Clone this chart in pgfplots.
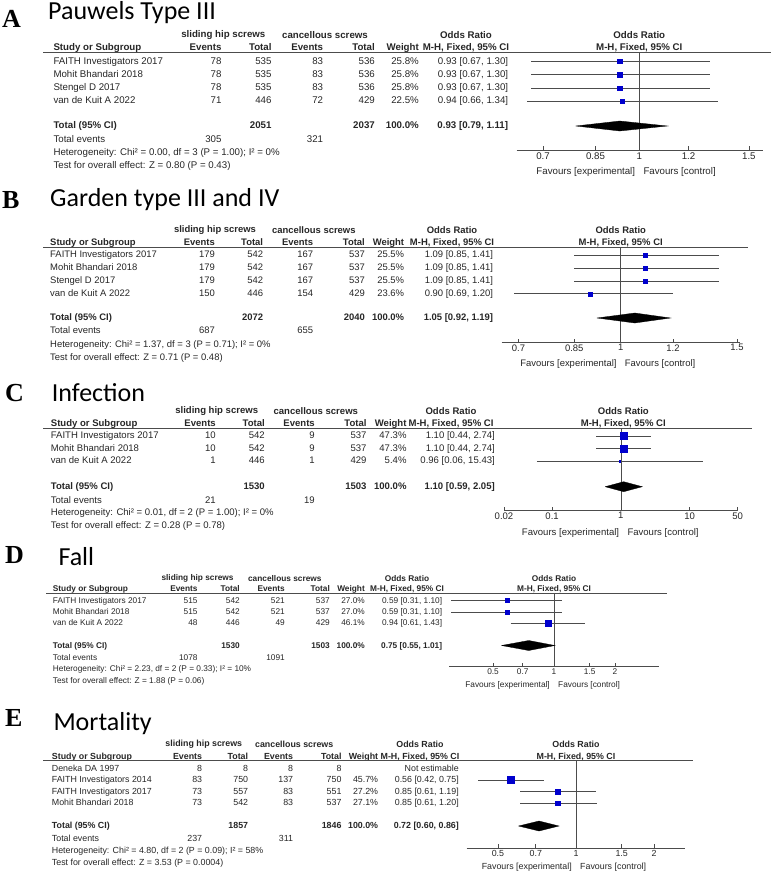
\documentclass[border=0pt]{standalone}
\usepackage{pgfplots}
\pgfplotsset{compat=1.18}
\usepackage{fontspec}
\setmainfont{Liberation Sans}
\newfontfamily\calibri{Carlito}
\newfontfamily\timesf{Liberation Serif}

\definecolor{sq}{RGB}{0,0,205}
\colorlet{ink}{black!85}
\colorlet{rule}{black!70}

\def\pfont{\fontsize{9.5}{11}\selectfont}

\tikzset{
  txt/.style={font=\pfont, text=ink, inner sep=0pt},
  hb/.style={txt, font=\pfont\bfseries},
  ttl/.style={anchor=base west, inner sep=0pt, font=\calibri\fontsize{26}{30}\selectfont},
  ltr/.style={anchor=base west, inner sep=0pt, font=\timesf\bfseries\fontsize{26}{30}\selectfont},
  ci/.style={draw=rule, line width=0.7pt},
  box/.style={only marks, mark=square*, color=sq},
  dia/.style={fill=black, draw=black, line width=0.3pt},
}

% column positions of one panel
\newcommand\cols[8]{\def\xS{#1}\def\xEa{#2}\def\xTa{#3}\def\xEb{#4}\def\xTb{#5}\def\xW{#6}\def\xOR{#7}\def\xone{#8}}
\newcommand\centers[3]{\def\cS{#1}\def\cC{#2}\def\cOR{#3}}
% group y, column y, rule y, rule x0, rule x1
\newcommand\heads[5]{%
  \node[hb] at (\cS,#1) {sliding hip screws};
  \node[hb] at (\cC,#1) {cancellous screws};
  \node[hb] at (\cOR,#1) {Odds Ratio};
  \node[hb] at (\xone,#1) {Odds Ratio};
  \node[hb,anchor=mid west] at (\xS,#2) {Study or Subgroup};
  \node[hb,anchor=mid east] at (\xEa,#2) {Events};
  \node[hb,anchor=mid east] at (\xTa,#2) {Total};
  \node[hb,anchor=mid east] at (\xEb,#2) {Events};
  \node[hb,anchor=mid east] at (\xTb,#2) {Total};
  \node[hb,anchor=mid east] at (\xW,#2) {Weight};
  \node[hb] at (\cOR,#2) {M-H, Fixed, 95\% CI};
  \node[hb] at (\xone,#2) {M-H, Fixed, 95\% CI};
  \draw[rule, line width=0.8pt] (#4,#3) -- (#5,#3);}
\newcommand\study[8]{%
  \node[txt,anchor=mid west] at (\xS,#1) {#2};
  \node[txt,anchor=mid east] at (\xEa,#1) {#3};
  \node[txt,anchor=mid east] at (\xTa,#1) {#4};
  \node[txt,anchor=mid east] at (\xEb,#1) {#5};
  \node[txt,anchor=mid east] at (\xTb,#1) {#6};
  \node[txt,anchor=mid east] at (\xW,#1) {#7};
  \node[txt,anchor=mid east] at (\xOR,#1) {#8};}
\newcommand\totalrow[5]{%
  \node[hb,anchor=mid west] at (\xS,#1) {Total (95\% CI)};
  \node[hb,anchor=mid east] at (\xTa,#1) {#2};
  \node[hb,anchor=mid east] at (\xTb,#1) {#3};
  \node[hb,anchor=mid east] at (\xW,#1) {#4};
  \node[hb,anchor=mid east] at (\xOR,#1) {#5};}
\newcommand\events[3]{%
  \node[txt,anchor=mid west] at (\xS,#1) {Total events};
  \node[txt,anchor=mid east] at (\xEa,#1) {#2};
  \node[txt,anchor=mid east] at (\xEb,#1) {#3};}
\newcommand\note[2]{\node[txt,anchor=mid west] at (\xS,#1) {#2};}
\newcommand\favours[1]{%
  \node[txt,anchor=mid east] at (\xone-4,#1) {Favours [experimental]};
  \node[txt,anchor=mid west] at (\xone+4,#1) {Favours [control]};}

\begin{document}
\begin{tikzpicture}[x=1pt, y=-1pt]
\useasboundingbox (0,0) rectangle (771,873);

% ---------------- A: Pauwels Type III
\def\pfont{\fontsize{9.7}{11}\selectfont}
\cols{53.3}{221.7}{271.7}{323.3}{375}{419}{508.3}{639.3}
\centers{223.3}{325}{466}
\node[ltr] at (2,27) {A};
\node[ttl] at (48,19.5) {Pauwels Type III};
\heads{35}{47.5}{52.7}{43}{771}
\study{61.5}{FAITH Investigators 2017}{78}{535}{83}{536}{25.8\%}{0.93 [0.67, 1.30]}
\study{74.8}{Mohit Bhandari 2018}{78}{535}{83}{536}{25.8\%}{0.93 [0.67, 1.30]}
\study{88}{Stengel D 2017}{78}{535}{83}{536}{25.8\%}{0.93 [0.67, 1.30]}
\study{101.3}{van de Kuit A 2022}{71}{446}{72}{429}{22.5\%}{0.94 [0.66, 1.34]}
\totalrow{126}{2051}{2037}{100.0\%}{0.93 [0.79, 1.11]}
\events{139.7}{305}{321}
\note{153}{Heterogeneity: Chi² = 0.00, df = 3 (P = 1.00); I² = 0\%}
\note{166.3}{Test for overall effect: Z = 0.80 (P = 0.43)}
\favours{171.5}
\begin{axis}[at={(516.7pt,-150pt)}, anchor=south west,
  scale only axis, width=246pt, height=97.3pt,
  xmode=log, xmin=0.635, xmax=1.579, ymin=0, ymax=97.3,
  axis x line=bottom, axis y line=none, clip=false,
  tick align=inside, major tick length=4pt,
  x axis line style={-, rule, line width=0.7pt},
  xtick style={rule, line width=0.7pt},
  xticklabel style={font=\pfont, text=ink, inner sep=1.5pt, yshift=-1pt},
  xtick={0.7,0.85,1,1.2,1.5}, xticklabels={0.7,0.85,1,1.2,1.5}]
\addplot[ci] coordinates {(1,0) (1,97.3)};
\addplot[ci] coordinates {(0.67,88.5) (1.30,88.5)};
\addplot[ci] coordinates {(0.67,75.2) (1.30,75.2)};
\addplot[ci] coordinates {(0.67,62) (1.30,62)};
\addplot[ci] coordinates {(0.66,48.7) (1.34,48.7)};
\addplot[box, mark size=2.2pt] coordinates {(0.93,88.5) (0.93,75.2) (0.93,62)};
\addplot[box, mark size=2pt] coordinates {(0.94,48.7)};
\addplot[dia] coordinates {(0.79,24) (0.93,29) (1.11,24) (0.93,19) (0.79,24)};
\end{axis}

% ---------------- B: Garden type III and IV
\def\pfont{\fontsize{9.45}{11}\selectfont}
\cols{50}{215}{263.3}{313.3}{365}{404.3}{493.3}{620.7}
\centers{215}{313.8}{452}
\node[ltr] at (2,208) {B};
\node[ttl] at (50,206.7) {Garden type III and IV};
\heads{230}{243}{247.5}{43}{748}
\study{255}{FAITH Investigators 2017}{179}{542}{167}{537}{25.5\%}{1.09 [0.85, 1.41]}
\study{268}{Mohit Bhandari 2018}{179}{542}{167}{537}{25.5\%}{1.09 [0.85, 1.41]}
\study{281}{Stengel D 2017}{179}{542}{167}{537}{25.5\%}{1.09 [0.85, 1.41]}
\study{293.7}{van de Kuit A 2022}{150}{446}{154}{429}{23.6\%}{0.90 [0.69, 1.20]}
\totalrow{318}{2072}{2040}{100.0\%}{1.05 [0.92, 1.19]}
\events{331}{687}{655}
\note{345}{Heterogeneity: Chi² = 1.37, df = 3 (P = 0.71); I² = 0\%}
\note{358}{Test for overall effect: Z = 0.71 (P = 0.48)}
\favours{364}
\begin{axis}[at={(501.7pt,-342.7pt)}, anchor=south west,
  scale only axis, width=238.3pt, height=95.2pt,
  xmode=log, xmin=0.66, xmax=1.516, ymin=0, ymax=95.2,
  axis x line=bottom, axis y line=none, clip=false,
  tick align=inside, major tick length=4pt,
  x axis line style={-, rule, line width=0.7pt},
  xtick style={rule, line width=0.7pt},
  xticklabel style={font=\pfont, text=ink, inner sep=1.5pt},
  xtick={0.7,0.85,1,1.2,1.5}, xticklabels={0.7,0.85,1,1.2,1.5}]
\addplot[ci] coordinates {(1,0) (1,95.2)};
\addplot[ci] coordinates {(0.85,87.7) (1.41,87.7)};
\addplot[ci] coordinates {(0.85,74.7) (1.41,74.7)};
\addplot[ci] coordinates {(0.85,61.7) (1.41,61.7)};
\addplot[ci] coordinates {(0.69,49) (1.20,49)};
\addplot[box, mark size=2pt] coordinates {(1.09,87.7) (1.09,74.7) (1.09,61.7) (0.90,49)};
\addplot[dia] coordinates {(0.92,24.7) (1.05,29.7) (1.19,24.7) (1.05,19.7) (0.92,24.7)};
\end{axis}

% ---------------- C: Infection
\def\pfont{\fontsize{9.55}{11}\selectfont}
\cols{50.7}{216}{265}{315}{366.7}{406.7}{495}{623.3}
\centers{216.7}{315.8}{451}
\node[ltr] at (5,401.7) {C};
\node[ttl] at (51.7,401) {Infection};
\heads{410.7}{423.7}{428.3}{43}{751.7}
\study{436}{FAITH Investigators 2017}{10}{542}{9}{537}{47.3\%}{1.10 [0.44, 2.74]}
\study{448.7}{Mohit Bhandari 2018}{10}{542}{9}{537}{47.3\%}{1.10 [0.44, 2.74]}
\study{461.3}{van de Kuit A 2022}{1}{446}{1}{429}{5.4\%}{0.96 [0.06, 15.43]}
\totalrow{486.7}{1530}{1503}{100.0\%}{1.10 [0.59, 2.05]}
\events{501}{21}{19}
\note{513.3}{Heterogeneity: Chi² = 0.01, df = 2 (P = 1.00); I² = 0\%}
\note{526}{Test for overall effect: Z = 0.28 (P = 0.78)}
\favours{532.5}
\begin{axis}[at={(504pt,-510.7pt)}, anchor=south west,
  scale only axis, width=233.7pt, height=82.4pt,
  xmode=log, xmin=0.02, xmax=50, ymin=0, ymax=82.4,
  axis x line=bottom, axis y line=none, clip=false,
  tick align=inside, major tick length=4pt,
  x axis line style={-, rule, line width=0.7pt},
  xtick style={rule, line width=0.7pt},
  xticklabel style={font=\pfont, text=ink, inner sep=1.5pt},
  xtick={0.02,0.1,1,10,50}, xticklabels={0.02,0.1,1,10,50}]
\addplot[ci] coordinates {(1,0) (1,82.4)};
\addplot[ci] coordinates {(0.44,74.7) (2.74,74.7)};
\addplot[ci] coordinates {(0.44,62) (2.74,62)};
\addplot[ci] coordinates {(0.06,49.4) (15.43,49.4)};
\addplot[box, mark size=3.5pt] coordinates {(1.10,74.7) (1.10,62)};
\addplot[box, mark size=0.8pt] coordinates {(0.96,49.4)};
\addplot[dia] coordinates {(0.59,24) (1.10,29) (2.05,24) (1.10,19) (0.59,24)};
\end{axis}

% ---------------- D: Fall
\def\pfont{\fontsize{8.3}{10}\selectfont}
\cols{52.7}{197.7}{240}{285}{330}{365}{442.3}{554}
\centers{197.5}{284.8}{407}
\node[ltr] at (5,563.3) {D};
\node[ttl] at (58.3,565.7) {Fall};
\heads{578.3}{589.3}{593.7}{46}{666.7}
\study{600.5}{FAITH Investigators 2017}{515}{542}{521}{537}{27.0\%}{0.59 [0.31, 1.10]}
\study{612}{Mohit Bhandari 2018}{515}{542}{521}{537}{27.0\%}{0.59 [0.31, 1.10]}
\study{623.2}{van de Kuit A 2022}{48}{446}{49}{429}{46.1\%}{0.94 [0.61, 1.43]}
\totalrow{645.5}{1530}{1503}{100.0\%}{0.75 [0.55, 1.01]}
\events{658.3}{1078}{1091}
\note{669.3}{Heterogeneity: Chi² = 2.23, df = 2 (P = 0.33); I² = 10\%}
\note{680.7}{Test for overall effect: Z = 1.88 (P = 0.06)}
\favours{685}
\begin{axis}[at={(449.3pt,-666.7pt)}, anchor=south west,
  scale only axis, width=210pt, height=73pt,
  xmode=log, xmin=0.304, xmax=3.31, ymin=0, ymax=73,
  axis x line=bottom, axis y line=none, clip=false,
  tick align=inside, major tick length=4pt,
  x axis line style={-, rule, line width=0.7pt},
  xtick style={rule, line width=0.7pt},
  xticklabel style={font=\pfont, text=ink, inner sep=1.5pt},
  xtick={0.5,0.7,1,1.5,2}, xticklabels={0.5,0.7,1,1.5,2}]
\addplot[ci] coordinates {(1,0) (1,73)};
\addplot[ci] coordinates {(0.31,66.2) (1.10,66.2)};
\addplot[ci] coordinates {(0.31,54.7) (1.10,54.7)};
\addplot[ci] coordinates {(0.61,43.5) (1.43,43.5)};
\addplot[box, mark size=2pt] coordinates {(0.59,66.2) (0.59,54.7)};
\addplot[box, mark size=3pt] coordinates {(0.94,43.5)};
\addplot[dia] coordinates {(0.55,21.2) (0.75,26.2) (1.01,21.2) (0.75,16.2) (0.55,21.2)};
\end{axis}

% ---------------- E: Mortality
\def\pfont{\fontsize{8.85}{10}\selectfont}
\cols{51.7}{202.3}{248.3}{293.3}{341.7}{378.3}{459}{576}
\centers{203.8}{294.2}{420}
\node[ltr] at (5,726.7) {E};
\node[ttl] at (53.3,730) {Mortality};
\heads{744.5}{757}{760.5}{43.3}{693}
\study{769.3}{Deneka DA 1997}{8}{8}{8}{8}{}{Not estimable}
\study{780}{FAITH Investigators 2014}{83}{750}{137}{750}{45.7\%}{0.56 [0.42, 0.75]}
\study{791.5}{FAITH Investigators 2017}{73}{557}{83}{551}{27.2\%}{0.85 [0.61, 1.19]}
\study{803}{Mohit Bhandari 2018}{73}{542}{83}{537}{27.1\%}{0.85 [0.61, 1.20]}
\totalrow{826}{1857}{1846}{100.0\%}{0.72 [0.60, 0.86]}
\events{838.7}{237}{311}
\note{850.7}{Heterogeneity: Chi² = 4.80, df = 2 (P = 0.09); I² = 58\%}
\note{863.3}{Test for overall effect: Z = 3.53 (P = 0.0004)}
\favours{867}
\begin{axis}[at={(466.7pt,-848.3pt)}, anchor=south west,
  scale only axis, width=218.3pt, height=87.8pt,
  xmode=log, xmin=0.379, xmax=2.63, ymin=0, ymax=87.8,
  axis x line=bottom, axis y line=none, clip=false,
  tick align=inside, major tick length=4pt,
  x axis line style={-, rule, line width=0.7pt},
  xtick style={rule, line width=0.7pt},
  xticklabel style={font=\pfont, text=ink, inner sep=1.5pt},
  xtick={0.5,0.7,1,1.5,2}, xticklabels={0.5,0.7,1,1.5,2}]
\addplot[ci] coordinates {(1,0) (1,87.8)};
\addplot[ci] coordinates {(0.42,68.3) (0.75,68.3)};
\addplot[ci] coordinates {(0.61,56.8) (1.19,56.8)};
\addplot[ci] coordinates {(0.61,45.3) (1.20,45.3)};
\addplot[box, mark size=3.5pt] coordinates {(0.56,68.3)};
\addplot[box, mark size=2.3pt] coordinates {(0.85,56.8) (0.85,45.3)};
\addplot[dia] coordinates {(0.60,22.3) (0.72,27.3) (0.86,22.3) (0.72,17.3) (0.60,22.3)};
\end{axis}
\end{tikzpicture}
\end{document}
